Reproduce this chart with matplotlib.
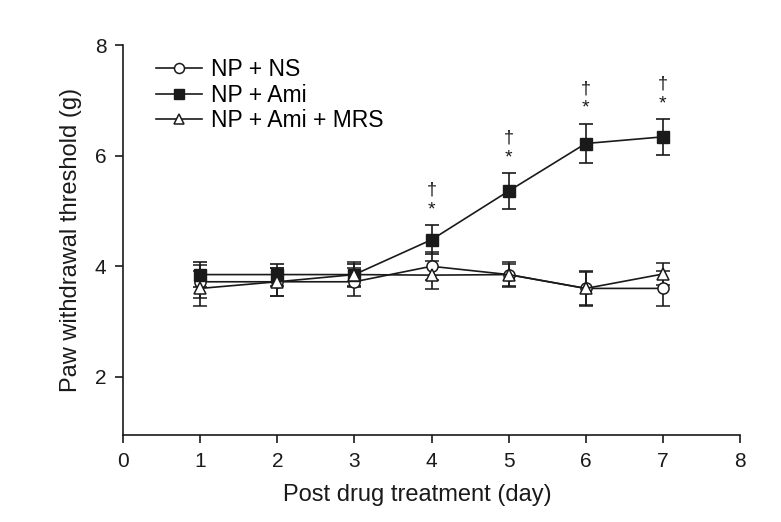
import matplotlib.pyplot as plt
import numpy as np

plt.rcParams['font.family'] = ['Liberation Sans', 'DejaVu Sans']

# Dados
dias = [1, 2, 3, 4, 5, 6, 7]
np_ns = [3.72, 3.72, 3.72, 4.0, 3.85, 3.6, 3.6]
np_ns_err = [0.3, 0.25, 0.25, 0.25, 0.2, 0.3, 0.32]
np_ami = [3.85, 3.85, 3.85, 4.48, 5.36, 6.22, 6.34]
np_ami_err = [0.22, 0.2, 0.2, 0.26, 0.32, 0.36, 0.32]
np_ami_mrs = [3.6, 3.72, 3.85, 3.84, 3.85, 3.6, 3.86]
np_ami_mrs_err = [0.32, 0.25, 0.22, 0.25, 0.22, 0.32, 0.2]
legendas = ['NP + NS', 'NP + Ami', 'NP + Ami + MRS']
dias_sig = [4, 5, 6, 7]

cor = '#1a1a1a'

fig = plt.figure(figsize=(7.81, 5.22), dpi=100)
ax = fig.add_axes([0.1575, 0.1667, 0.79, 0.747])

estilo = dict(color=cor, lw=1.2, capsize=5, elinewidth=1.2, capthick=1.2, markersize=8)

e1 = ax.errorbar(dias, np_ns, yerr=np_ns_err, marker='o', mfc='white', mec=cor,
                 mew=1.1, **estilo)
e2 = ax.errorbar(dias, np_ami, yerr=np_ami_err, marker='s', mfc=cor, mec=cor, **estilo)
e3 = ax.errorbar(dias, np_ami_mrs, yerr=np_ami_mrs_err, marker='^', mfc='white', mec=cor,
                 mew=1.1, **estilo)
linhas = [e1[0], e2[0], e3[0]]

# Marcas de significância
for d in dias_sig:
    i = dias.index(d)
    topo = np_ami[i] + np_ami_err[i]
    ax.text(d, topo + 0.12, '*', ha='center', va='bottom', fontsize=14, color=cor)
    ax.text(d, topo + 0.48, '†', ha='center', va='bottom', fontsize=13, color=cor)

ax.set_xlim(0, 8)
ax.set_ylim(0.95, 8)
ax.set_xticks(range(0, 9))
ax.set_yticks([2, 4, 6, 8])
ax.spines['top'].set_visible(False)
ax.spines['right'].set_visible(False)
for s in ['left', 'bottom']:
    ax.spines[s].set_linewidth(1.2)
    ax.spines[s].set_color(cor)
ax.tick_params(direction='out', length=6, width=1.2, labelsize=15, colors=cor, pad=6)

ax.set_xlabel('Post drug treatment (day)', fontsize=17, color=cor)
ax.xaxis.set_label_coords(0.477, -0.125)
ax.set_ylabel('Paw withdrawal threshold (g)', fontsize=17, color=cor, labelpad=9)

ax.legend(linhas, legendas, loc='upper left', bbox_to_anchor=(0.02, 1.02), frameon=False,
          fontsize=16.5, handlelength=2.0, handletextpad=0.4, labelspacing=0.12,
          markerscale=0.9)

fig.savefig('out.png', dpi=100)
